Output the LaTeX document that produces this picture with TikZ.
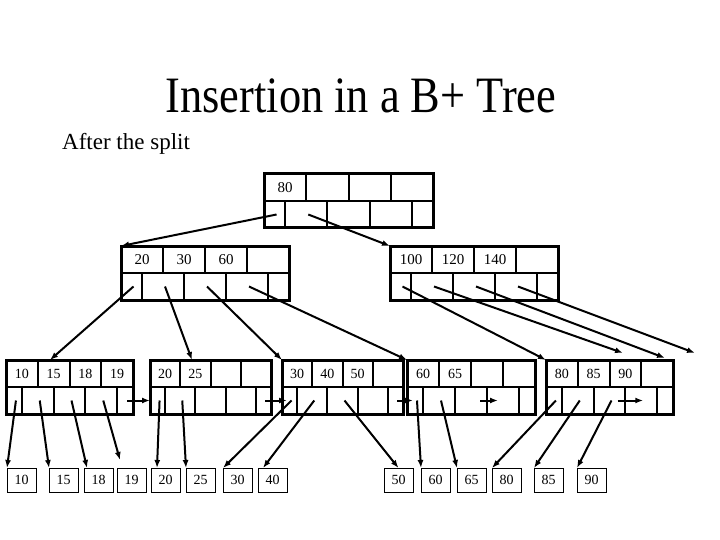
\documentclass[tikz,border=0pt]{standalone}
\usepackage{fontspec}
\setmainfont{Liberation Serif}
\newfontfamily\titlefont[FakeStretch=0.87]{Liberation Serif}
\usetikzlibrary{calc,arrows.meta}

\tikzset{
  bpframe/.style={draw,line width=3pt,outer sep=0pt,inner sep=0pt,minimum height=54pt,anchor=north west},
  bpdiv/.style={line width=2pt},
  bpkey/.style={inner sep=0pt,font=\fontsize{14}{16}\selectfont},
  datbox/.style={draw,line width=1pt,outer sep=0pt,inner sep=0pt,minimum width=29pt,minimum height=24pt,anchor=north west,font=\fontsize{14}{16}\selectfont},
  ptr/.style={line width=2pt,-{Latex[length=8pt,width=6pt]}}
}

% B+ tree node: [key style]{name}{left}{top}{width}{keys}
\newcommand{\bpnode}[6][]{%
  \node[bpframe,minimum width=#5pt] (#2) at (#3,#4) {};
  \draw[bpdiv] (#2.west) -- (#2.east);
  \foreach \f in {0.25,0.5,0.75}
    \draw[bpdiv] ($(#2.north west)!\f!(#2.north east)$) -- ($(#2.west)!\f!(#2.east)$);
  \foreach \f in {0.125,0.375,0.625,0.875}
    \draw[bpdiv] ($(#2.west)!\f!(#2.east)$) -- ($(#2.south west)!\f!(#2.south east)$);
  \coordinate (#2-tl) at ($(#2.north west)!0.5!(#2.west)$);
  \coordinate (#2-tr) at ($(#2.north east)!0.5!(#2.east)$);
  \coordinate (#2-bl) at ($(#2.south west)!0.5!(#2.west)$);
  \coordinate (#2-br) at ($(#2.south east)!0.5!(#2.east)$);
  \foreach \k [count=\i] in {#6}
    \node[bpkey,#1] (#2-k\i) at ($(#2-tl)!{(2*\i-1)/8}!(#2-tr)$) {\k};
  \foreach \f [count=\i from 0] in {0.0625,0.25,0.5,0.75,0.9375}
    \coordinate (#2-p\i) at ($(#2-bl)!\f!(#2-br)+(2,0)$);
}

\begin{document}
\begin{tikzpicture}[x=1pt,y=-1pt]
\useasboundingbox (0,0) rectangle (720,540);
\node[anchor=base] (title) at (361,113) {\titlefont\fontsize{51}{60}\selectfont Insertion in a B+ Tree};
\node[anchor=base west,inner sep=0pt] (sub) at (62,150) {\fontsize{23}{28}\selectfont After the split};

% index levels
\bpnode[font=\fontsize{15}{17}\selectfont]{root}{264}{174}{169}{80}
\bpnode[font=\fontsize{15}{17}\selectfont]{inL}{121}{246}{168}{20,30,60}
\bpnode[font=\fontsize{15}{17}\selectfont]{inR}{390}{246}{168}{100,120,140}

% leaves
\bpnode{l1}{6}{360}{127}{10,15,18,19}
\bpnode{l2}{150}{360}{121}{20,25}
\bpnode{l3}{282}{360}{121}{30,40,50}
\bpnode{l4}{407}{360}{128}{60,65}
\bpnode{l5}{546}{360}{127}{80,85,90}

% data entries
\foreach \v/\x in {10/7,15/49,18/84,19/117,20/151,25/186,30/223,40/258,50/384,60/421,65/457,80/492,85/534,90/577}
  \node[datbox] (b\v) at (\x,468) {\v};

% root and index pointers
\draw[ptr] (root-p0) -- (inL.north west);
\draw[ptr] (root-p1) -- (inR.north west);
\draw[ptr] (inL-p0) -- ([xshift=44pt]l1.north west);
\draw[ptr] (inL-p1) -- ([xshift=42pt]l2.north west);
\draw[ptr] (inL-p2) -- (l3.north west);
\draw[ptr] (inL-p3) -- (l4.north west);
\draw[ptr] (inR-p0) -- (l5.north west);
\draw[ptr] (inR-p1) -- ([shift={(77pt,7pt)}]l5.north west);
\draw[ptr] (inR-p2) -- ([shift={(-8pt,2pt)}]l5.north east);
\draw[ptr] (inR-p3) -- ([shift={(22pt,7pt)}]l5.north east);

% leaf pointers
\draw[ptr] (l1-p0) -- (b10.north west);
\draw[ptr] (l1-p1) -- (b15.north west);
\draw[ptr] (l1-p2) -- ([xshift=3pt]b18.north west);
\draw[ptr] (l1-p3) -- ([shift={(3pt,8pt)}]b19.north west);
\draw[ptr] (l2-p0) -- ([xshift=6pt]b20.north west);
\draw[ptr] (l2-p1) -- (b25.north west);
\draw[ptr] (l3-p0) -- (b30.north west);
\draw[ptr] (l3-p1) -- ([xshift=5pt]b40.north west);
\draw[ptr] (l3-p2) -- (b50.north);
\draw[ptr] (l4-p0) -- (b60.north west);
\draw[ptr] (l4-p1) -- (b65.north west);
\draw[ptr] (l5-p0) -- (b80.north west);
\draw[ptr] (l5-p1) -- (b85.north west);
\draw[ptr] (l5-p2) -- (b90.north west);

% sibling pointers
\draw[ptr] (l1-p4) -- (l2.west |- l1-p4);
\draw[ptr] (l2-p4) -- ($(l3.west |- l2-p4)+(5,0)$);
\draw[ptr] (l3-p4) -- ($(l4.west |- l3-p4)+(6,0)$);
\draw[ptr] ($(l4-p2)+(7,0)$) -- ($(l4-p3)+(-7,0)$);
\draw[ptr] ($(l5-p2)+(6,0)$) -- (l5-p3);
\end{tikzpicture}
\end{document}
